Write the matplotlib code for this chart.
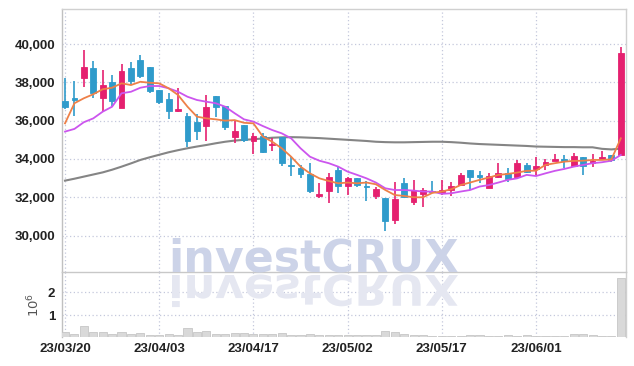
import matplotlib
matplotlib.use('Agg')
import matplotlib.pyplot as plt
import numpy as np
from matplotlib.textpath import TextPath
from matplotlib.font_manager import FontProperties
from matplotlib.patches import PathPatch
from matplotlib.transforms import Affine2D

plt.rcParams['font.family'] = ['Liberation Sans', 'DejaVu Sans']

# trading days, 23/03/20 .. 23/06/15
dates = ['23/03/20', '23/03/21', '23/03/22', '23/03/23', '23/03/24', '23/03/27', '23/03/28', '23/03/29', '23/03/30', '23/03/31',
         '23/04/03', '23/04/04', '23/04/05', '23/04/06', '23/04/07', '23/04/10', '23/04/11', '23/04/12', '23/04/13', '23/04/14',
         '23/04/17', '23/04/18', '23/04/19', '23/04/20', '23/04/21', '23/04/24', '23/04/25', '23/04/26', '23/04/27', '23/04/28',
         '23/05/02', '23/05/03', '23/05/04', '23/05/08', '23/05/09', '23/05/10', '23/05/11', '23/05/12', '23/05/15', '23/05/16',
         '23/05/17', '23/05/18', '23/05/19', '23/05/22', '23/05/23', '23/05/24', '23/05/25', '23/05/26', '23/05/30', '23/05/31',
         '23/06/01', '23/06/02', '23/06/05', '23/06/07', '23/06/08', '23/06/09', '23/06/12', '23/06/13', '23/06/14', '23/06/15']

opens = [37030, 37170, 38240, 38750, 37200, 38020, 36680, 38750, 39160, 38800,
         37600, 37130, 36520, 36240, 35950, 35740, 37290, 36770, 35160, 35770,
         34960, 35200, 34730, 35130, 33690, 33530, 33220, 32090, 32320, 33430,
         32610, 33030, 32590, 32090, 31970, 30820, 32760, 31770, 32160, 32330,
         32300, 32400, 32640, 33430, 33160, 32470, 33080, 33290, 33080, 33670,
         33460, 33670, 33900, 34020, 33640, 34120, 33780, 33980, 34210, 34210]
highs = [38240, 38070, 39700, 39110, 38630, 38380, 38940, 39080, 39430, 38800,
         37600, 37430, 37690, 36390, 36330, 37340, 37290, 36770, 36030, 35770,
         35340, 35340, 35080, 35130, 34120, 33670, 33780, 32730, 33290, 33600,
         33080, 33030, 32850, 32560, 31970, 32780, 32990, 32910, 32470, 32850,
         32900, 32820, 33290, 33430, 33390, 33290, 33780, 33510, 33950, 33780,
         34090, 33980, 34260, 34210, 34330, 34120, 34240, 34440, 34210, 39830]
lows = [36610, 36250, 37770, 37200, 36500, 36780, 36650, 37860, 38210, 37450,
        36850, 36100, 36470, 34610, 34990, 34950, 36210, 35510, 34850, 34870,
        34260, 34300, 34430, 33640, 33110, 32990, 32240, 31950, 31690, 32240,
        32120, 32520, 31830, 31900, 30240, 30610, 32040, 31600, 31510, 32260,
        32100, 32070, 32640, 32380, 32770, 32470, 32990, 32820, 33080, 33250,
        33170, 33430, 33900, 33550, 33570, 33150, 33570, 33980, 33860, 34200]
closes = [36730, 37080, 38780, 37460, 37860, 37040, 38590, 38090, 38350, 37560,
          36990, 36520, 36600, 34960, 35460, 36700, 36730, 35690, 35460, 34990,
          35200, 34380, 34800, 33810, 33620, 33200, 32350, 32170, 33050, 32610,
          33030, 32640, 32540, 32420, 30780, 31900, 32040, 32380, 32380, 32260,
          32380, 32590, 33160, 33080, 33080, 33110, 33290, 32960, 33810, 33340,
          33640, 33840, 34020, 33910, 34160, 33640, 33910, 34120, 33950, 39550]

ma5 = [35860, 36910, 37170, 37380, 37640, 37720, 37950, 37860, 38030, 37980,
       37950, 37690, 37340, 36730, 36210, 36120, 36070, 36000, 36030, 35890,
       35860, 35170, 34900, 34560, 34120, 33600, 33250, 32990, 32850, 32730,
       32770, 32730, 32770, 32680, 32380, 32120, 32070, 32000, 32000, 32230,
       32300, 32420, 32640, 32770, 32910, 33030, 33170, 33220, 33290, 33380,
       33390, 33690, 33780, 33860, 33900, 33910, 33950, 33950, 33980, 35080]
ma20 = [35430, 35570, 35920, 36120, 36470, 36730, 37430, 37510, 37720, 37810,
        37810, 37690, 37510, 37250, 37080, 36990, 36910, 36730, 36390, 36070,
        35950, 35720, 35510, 35340, 35080, 34560, 34120, 33910, 33780, 33600,
        33340, 33170, 32990, 32770, 32470, 32380, 32380, 32350, 32300, 32300,
        32180, 32210, 32300, 32380, 32560, 32640, 32770, 32910, 32990, 33170,
        33110, 33250, 33380, 33480, 33600, 33690, 33780, 33830, 33910, 34210]
ma60 = [32870, 32970, 33080, 33190, 33300, 33440, 33600, 33770, 33950, 34090,
        34220, 34350, 34460, 34560, 34650, 34730, 34820, 34900, 34960, 35000,
        35030, 35070, 35110, 35130, 35140, 35130, 35110, 35090, 35060, 35030,
        35000, 34970, 34940, 34900, 34880, 34870, 34870, 34880, 34890, 34900,
        34900, 34880, 34850, 34810, 34780, 34760, 34740, 34720, 34700, 34680,
        34650, 34640, 34630, 34620, 34620, 34610, 34610, 34530, 34500, 34540]

volumes = [0.29, 0.20, 0.55, 0.29, 0.29, 0.20, 0.28, 0.20, 0.24, 0.16,
           0.14, 0.19, 0.16, 0.45, 0.30, 0.33, 0.21, 0.21, 0.23, 0.23,
           0.22, 0.20, 0.20, 0.23, 0.17, 0.17, 0.19, 0.17, 0.17, 0.14,
           0.14, 0.14, 0.14, 0.16, 0.32, 0.28, 0.20, 0.16, 0.14, 0.13,
           0.12, 0.12, 0.13, 0.15, 0.15, 0.12, 0.13, 0.14, 0.12, 0.15,
           0.12, 0.12, 0.12, 0.13, 0.18, 0.20, 0.14, 0.13, 0.13, 2.60]  # x 1e6

UP = '#e5206f'
DOWN = '#2f9bcb'
GRID = '#c4c8dc'
LABEL = '#222222'

W, H = 634, 366
fig = plt.figure(figsize=(W / 100, H / 100), dpi=100)
ax = fig.add_axes([62 / W, 1 - 272 / H, (626 - 62) / W, (272 - 9) / H])
axv = fig.add_axes([62 / W, 1 - 337 / H, (626 - 62) / W, (337 - 272) / H], sharex=ax)

x = np.arange(len(dates))
o = np.array(opens)
c = np.array(closes)
up = c >= o
colors = np.where(up, UP, DOWN)

# candles
ax.vlines(x, lows, highs, colors=colors, linewidth=1.2, zorder=3)
ax.bar(x, np.abs(c - o), bottom=np.minimum(o, c), width=0.62,
       color=colors, edgecolor=colors, linewidth=0.6, zorder=4)

# moving averages
ax.plot(x, ma60, color='#858585', linewidth=1.5, zorder=2)
ax.plot(x, ma20, color='#cc55ee', linewidth=1.3, zorder=5)
ax.plot(x, ma5, color='#ee8048', linewidth=1.3, zorder=6)

ax.set_ylim(28100, 41830)
ax.set_xlim(-0.32, 59.55)
ax.set_yticks(range(30000, 40001, 2000))
ax.set_yticklabels([f'{v:,}' for v in range(30000, 40001, 2000)])
ax.set_xticks(x[::10])
ax.tick_params(axis='x', labelbottom=False, length=0)
ax.tick_params(axis='y', length=0, pad=5, labelsize=9.5, labelcolor=LABEL)
for lab in ax.get_yticklabels():
    lab.set_fontweight('bold')
ax.grid(True, color=GRID, linestyle=(0, (1, 2)), linewidth=0.9)

# volume
axv.bar(x, volumes, width=0.86, color='#d9d9d9', edgecolor='#c6c6c6', linewidth=0.6, zorder=3)
axv.set_ylim(0.07, 2.86)
axv.set_yticks([1, 2])
axv.set_yticklabels(['1', '2'])
axv.set_xticks(x[::10])
axv.set_xticklabels([dates[i] for i in x[::10]])
axv.tick_params(axis='both', length=0)
axv.tick_params(axis='y', pad=5, labelsize=9.5, labelcolor=LABEL)
axv.tick_params(axis='x', pad=4, labelsize=9.5, labelcolor=LABEL)
for lab in axv.get_yticklabels() + axv.get_xticklabels():
    lab.set_fontweight('bold')
axv.grid(True, color=GRID, linestyle=(0, (1, 2)), linewidth=0.9)
axv.set_ylabel('10$^6$', fontsize=9.5, color='#555555', labelpad=4, family='DejaVu Sans')

for a in (ax, axv):
    for s in a.spines.values():
        s.set_color('#d0d0d0')
        s.set_linewidth(1.0)
    a.spines['bottom'].set_visible(False)
ax.spines['left'].set_color('#c0c0c0')
axv.spines['left'].set_color('#c0c0c0')
axv.spines['top'].set_color('#c8c8c8')

# watermark with reflection
fp = FontProperties(family='DejaVu Sans', weight='bold')
tp = TextPath((0, 0), 'investCRUX', size=1, prop=fp)
ext = tp.get_extents()
px = 286 / ext.width
x0, base = 172 - ext.x0 * px, H - 272
wm = fig.text(x0 / W, base / H, 'investCRUX', fontproperties=fp,
              color='#ccd3e8', ha='left', va='baseline', zorder=1)
wm.set_fontsize(px * 72 / 100)
refl = PathPatch(tp, transform=Affine2D().scale(px, -px * 0.95).translate(x0, base - 3),
                 facecolor='#e5e7f1', edgecolor='none', zorder=1)
fig.patches.append(refl)
refl.set_figure(fig)

fig.savefig('out.png', dpi=100)
